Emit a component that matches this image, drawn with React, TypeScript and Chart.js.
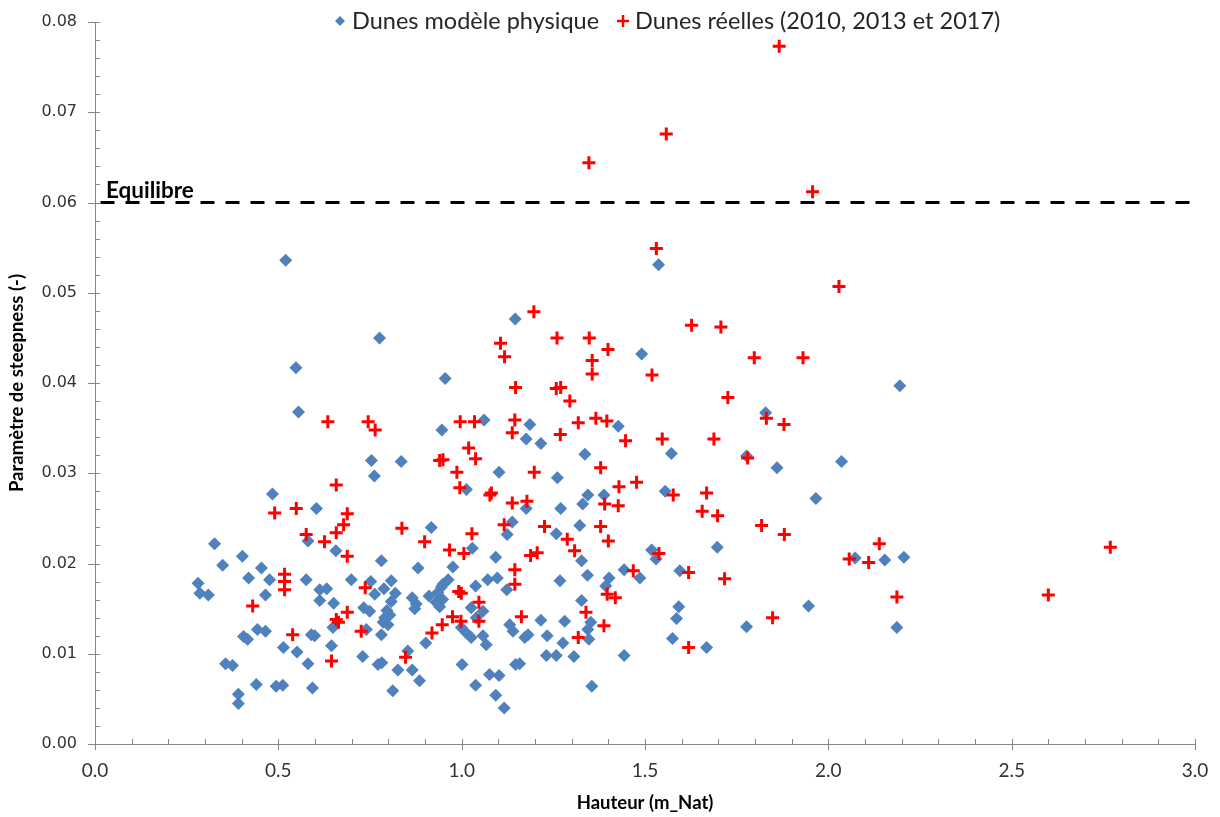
import React, { useEffect, useRef } from "react";
import { Chart, registerables } from "chart.js";

Chart.register(...registerables);

// ---- Data ----
const physiqueX: number[] = [
  0.281, 0.286, 0.309, 0.326, 0.348, 0.356, 0.375, 0.391, 0.391, 0.402, 0.405, 0.416, 0.419, 0.44, 0.443,
  0.454, 0.465, 0.465, 0.476, 0.484, 0.494, 0.512, 0.514, 0.52, 0.548, 0.555, 0.551, 0.581, 0.59, 0.599,
  0.593, 0.604, 0.581, 0.576, 0.613, 0.632, 0.613, 0.651, 0.657, 0.645, 0.649, 0.699, 0.733, 0.749, 0.74,
  0.752, 0.763, 0.788, 0.808, 0.819, 0.808, 0.79, 0.804, 0.799, 0.781, 0.73, 0.772, 0.782, 0.812, 0.826,
  0.865, 0.885, 0.853, 0.902, 0.781, 0.776, 0.754, 0.762, 0.835, 0.881, 0.917, 0.865, 0.876, 0.911, 0.94,
  0.949, 0.963, 0.945, 0.976, 0.955, 0.946, 0.999, 1.013, 1.026, 1.058, 1.067, 1.001, 1.038, 1.076, 1.102,
  1.093, 1.116, 1.147, 1.131, 1.026, 1.058, 1.038, 1.013, 1.029, 1.061, 1.071, 1.097, 1.123, 1.093, 1.124,
  1.138, 1.102, 1.146, 1.158, 1.172, 1.181, 1.176, 1.176, 1.186, 1.216, 1.216, 1.233, 1.231, 1.258, 1.258,
  1.261, 1.268, 1.27, 1.276, 1.281, 1.306, 1.322, 1.327, 1.327, 1.33, 1.336, 1.343, 1.344, 1.344, 1.347,
  1.352, 1.355, 1.388, 1.393, 1.402, 1.427, 1.443, 1.443, 1.486, 1.491, 1.518, 1.53, 1.537, 1.555, 1.572,
  1.575, 1.586, 1.592, 1.595, 1.668, 1.697, 1.777, 1.777, 1.829, 1.86, 1.946, 1.966, 2.036, 2.073, 2.154,
  2.187, 2.195, 2.206, 0.796, 0.786, 0.935, 0.872, 0.93, 0.948, 1.04, 1.14,
];
const physiqueY: number[] = [
  0.0178, 0.0167, 0.0165, 0.0222, 0.0198, 0.0089, 0.0087, 0.0055, 0.0045, 0.0208, 0.0119, 0.0116, 0.0184, 0.0066, 0.0127,
  0.0195, 0.0125, 0.0165, 0.0182, 0.0277, 0.0064, 0.0065, 0.0107, 0.0536, 0.0417, 0.0368, 0.0102, 0.0089, 0.0121, 0.012,
  0.0062, 0.0261, 0.0225, 0.0182, 0.0171, 0.0172, 0.0159, 0.0156, 0.0214, 0.0109, 0.0129, 0.0182, 0.0151, 0.0147, 0.0127,
  0.018, 0.0166, 0.0172, 0.0181, 0.0167, 0.0158, 0.014, 0.0143, 0.0132, 0.0121, 0.0097, 0.0088, 0.009, 0.0059, 0.0082,
  0.0082, 0.007, 0.0103, 0.0112, 0.0203, 0.045, 0.0314, 0.0297, 0.0313, 0.0195, 0.024, 0.0162, 0.0155, 0.0164, 0.0152,
  0.0177, 0.0182, 0.0174, 0.0196, 0.0405, 0.0348, 0.0129, 0.0123, 0.0118, 0.012, 0.011, 0.0088, 0.0065, 0.0077, 0.0076,
  0.0054, 0.004, 0.0088, 0.0132, 0.0151, 0.0147, 0.0175, 0.0282, 0.0217, 0.0359, 0.0182, 0.0184, 0.0171, 0.0207, 0.0232,
  0.0246, 0.0301, 0.0471, 0.0089, 0.0118, 0.0121, 0.0261, 0.0338, 0.0354, 0.0333, 0.0137, 0.012, 0.0098, 0.0098, 0.0233,
  0.0295, 0.0181, 0.0261, 0.0112, 0.0136, 0.0097, 0.0242, 0.0203, 0.0159, 0.0266, 0.0321, 0.0187, 0.0276, 0.0127, 0.0116,
  0.0135, 0.0064, 0.0276, 0.0175, 0.0184, 0.0352, 0.0193, 0.0098, 0.0184, 0.0432, 0.0215, 0.0205, 0.0531, 0.028, 0.0322,
  0.0117, 0.0139, 0.0152, 0.0192, 0.0107, 0.0218, 0.0319, 0.013, 0.0367, 0.0306, 0.0153, 0.0272, 0.0313, 0.0206, 0.0204,
  0.0129, 0.0397, 0.0207, 0.0148, 0.0135, 0.0168, 0.015, 0.0157, 0.016, 0.014, 0.0125,
];

const reellesX: number[] = [
  0.43, 0.49, 0.517, 0.517, 0.517, 0.539, 0.549, 0.576, 0.626, 0.635, 0.645, 0.658, 0.658, 0.658, 0.664,
  0.678, 0.688, 0.688, 0.688, 0.726, 0.737, 0.745, 0.764, 0.837, 0.847, 0.899, 0.919, 0.94, 0.949, 0.947,
  0.967, 0.975, 0.987, 0.992, 0.999, 0.995, 0.996, 0.998, 1.006, 1.019, 1.028, 1.035, 1.038, 1.047, 1.047,
  1.077, 1.081, 1.106, 1.116, 1.117, 1.138, 1.138, 1.145, 1.145, 1.145, 1.147, 1.163, 1.178, 1.188, 1.197,
  1.198, 1.206, 1.226, 1.258, 1.26, 1.269, 1.27, 1.288, 1.295, 1.308, 1.318, 1.318, 1.339, 1.347, 1.348,
  1.356, 1.356, 1.366, 1.379, 1.379, 1.388, 1.39, 1.396, 1.397, 1.399, 1.4, 1.419, 1.427, 1.429, 1.447,
  1.468, 1.477, 1.519, 1.531, 1.538, 1.547, 1.558, 1.577, 1.619, 1.619, 1.627, 1.656, 1.668, 1.688, 1.698,
  1.707, 1.717, 1.726, 1.78, 1.798, 1.818, 1.831, 1.848, 1.866, 1.879, 1.88, 1.931, 1.957, 2.029, 2.057,
  2.11, 2.139, 2.187, 2.6, 2.769,
];
const reellesY: number[] = [
  0.0153, 0.0256, 0.0188, 0.018, 0.0171, 0.0121, 0.0261, 0.0232, 0.0224, 0.0357, 0.0092, 0.0287, 0.0234, 0.0138, 0.0135,
  0.0243, 0.0255, 0.0208, 0.0146, 0.0125, 0.0173, 0.0357, 0.0348, 0.0239, 0.0096, 0.0224, 0.0123, 0.0314, 0.0315, 0.0132,
  0.0215, 0.0141, 0.0301, 0.0169, 0.0167, 0.0284, 0.0357, 0.0136, 0.0211, 0.0328, 0.0233, 0.0357, 0.0316, 0.0157, 0.0136,
  0.0276, 0.0278, 0.0444, 0.0243, 0.0429, 0.0267, 0.0345, 0.0359, 0.0193, 0.0177, 0.0395, 0.0141, 0.0269, 0.0209, 0.0479,
  0.0301, 0.0212, 0.0241, 0.0394, 0.045, 0.0343, 0.0395, 0.0227, 0.038, 0.0214, 0.0356, 0.0118, 0.0146, 0.0644, 0.045,
  0.0425, 0.041, 0.0361, 0.0306, 0.0241, 0.0131, 0.0266, 0.0358, 0.0166, 0.0437, 0.0225, 0.0162, 0.0264, 0.0285, 0.0336,
  0.0192, 0.029, 0.0409, 0.0549, 0.0211, 0.0338, 0.0676, 0.0276, 0.019, 0.0107, 0.0464, 0.0258, 0.0278, 0.0338, 0.0253,
  0.0462, 0.0183, 0.0384, 0.0317, 0.0428, 0.0242, 0.0361, 0.014, 0.0773, 0.0354, 0.0232, 0.0428, 0.0612, 0.0507, 0.0205,
  0.0201, 0.0222, 0.0163, 0.0165, 0.0218,
];

const equilibreX: number[] = [0.015, 3.0];
const equilibreY: number[] = [0.06, 0.06];
const equilibreLabel = "Equilibre";

const seriesLabels = ["Dunes modèle physique", "Dunes réelles (2010, 2013 et 2017)"];
const xAxisTitle = "Hauteur (m_Nat)";
const yAxisTitle = "Paramètre de steepness (-)";

const X_MIN = 0, X_MAX = 3, X_MAJOR = 0.5, X_MINOR = 0.1;
const Y_MIN = 0, Y_MAX = 0.08, Y_MAJOR = 0.01, Y_MINOR = 0.002;

const BLUE = "#4F81BD";
const RED = "#FF0000";
const AXIS = "#868686";

const pts = (xs: number[], ys: number[]) => xs.map((x, i) => ({ x, y: ys[i] }));

const decorPlugin = {
  id: "decor",
  afterDraw(chart: any) {
    const { ctx, chartArea: ca } = chart;
    const xs = chart.scales.x;
    const ys = chart.scales.y;
    ctx.save();
    // tick marks: minor inside, major cross
    ctx.strokeStyle = AXIS;
    ctx.lineWidth = 1;
    ctx.beginPath();
    const nx = Math.round((X_MAX - X_MIN) / X_MINOR);
    const perMajX = Math.round(X_MAJOR / X_MINOR);
    for (let i = 0; i <= nx; i++) {
      const px = Math.round(xs.getPixelForValue(X_MIN + i * X_MINOR)) + 0.5;
      const major = i % perMajX === 0;
      ctx.moveTo(px, ca.bottom + (major ? 6 : 0));
      ctx.lineTo(px, ca.bottom - 5);
    }
    const ny = Math.round((Y_MAX - Y_MIN) / Y_MINOR);
    const perMajY = Math.round(Y_MAJOR / Y_MINOR);
    for (let i = 0; i <= ny; i++) {
      const py = Math.round(ys.getPixelForValue(Y_MIN + i * Y_MINOR)) + 0.5;
      const major = i % perMajY === 0;
      ctx.moveTo(ca.left - (major ? 7 : 0), py);
      ctx.lineTo(ca.left + 5, py);
    }
    ctx.stroke();

    // Equilibre label
    ctx.fillStyle = "#000";
    ctx.font = "bold 22.5px Lato";
    ctx.textAlign = "left";
    ctx.textBaseline = "alphabetic";
    ctx.fillText(equilibreLabel, xs.getPixelForValue(0.03), ys.getPixelForValue(equilibreY[0]) - 5);

    // Legend
    const ly = 21;
    ctx.font = "23.5px Lato";
    ctx.textBaseline = "middle";
    let lx = 340;
    ctx.fillStyle = BLUE;
    ctx.beginPath();
    ctx.moveTo(lx, ly - 5);
    ctx.lineTo(lx + 5, ly);
    ctx.lineTo(lx, ly + 5);
    ctx.lineTo(lx - 5, ly);
    ctx.closePath();
    ctx.fill();
    ctx.fillStyle = "#262626";
    ctx.fillText(chart.data.datasets[0].label, lx + 12, ly);
    lx = 623;
    ctx.strokeStyle = RED;
    ctx.lineWidth = 2.5;
    ctx.beginPath();
    ctx.moveTo(lx - 6, ly);
    ctx.lineTo(lx + 6, ly);
    ctx.moveTo(lx, ly - 6);
    ctx.lineTo(lx, ly + 6);
    ctx.stroke();
    ctx.fillText(chart.data.datasets[1].label, lx + 12, ly);
    ctx.restore();
  },
};

export default function App() {
  const ref = useRef<HTMLCanvasElement | null>(null);
  useEffect(() => {
    if (!ref.current) return;
    const chart = new Chart(ref.current, {
      type: "scatter",
      data: {
        datasets: [
          {
            label: seriesLabels[0],
            data: pts(physiqueX, physiqueY),
            pointStyle: "rectRot",
            pointRadius: 6.5,
            backgroundColor: BLUE,
            borderColor: BLUE,
            borderWidth: 0,
            order: 2,
          },
          {
            label: seriesLabels[1],
            data: pts(reellesX, reellesY),
            pointStyle: "cross",
            pointRadius: 6.5,
            borderColor: RED,
            backgroundColor: RED,
            borderWidth: 3,
            order: 1,
          },
          {
            label: equilibreLabel,
            data: pts(equilibreX, equilibreY),
            showLine: true,
            borderColor: "#000",
            borderWidth: 3,
            borderDash: [14, 11],
            pointRadius: 0,
            order: 3,
          },
        ],
      },
      options: {
        animation: false,
        responsive: false,
        events: [],
        layout: { padding: { top: 22, right: 25, left: 0, bottom: 0 } },
        plugins: { legend: { display: false }, tooltip: { enabled: false } },
        scales: {
          x: {
            type: "linear",
            min: X_MIN,
            max: X_MAX,
            grid: { display: false, drawTicks: true, tickLength: 15 },
            border: { display: true, color: AXIS, width: 1 },
            ticks: {
              stepSize: X_MAJOR,
              autoSkip: false,
              maxRotation: 0,
              padding: 0,
              color: "#333",
              font: { family: "Lato", size: 19 },
              callback: (v: any) => Number(v).toFixed(1),
            },
            title: {
              display: true,
              text: xAxisTitle,
              color: "#000",
              font: { family: "Lato", size: 18.5, weight: "bold" },
              padding: { top: 0, bottom: 3 },
            },
            afterFit: (s: any) => {
              s.height = 73;
            },
          },
          y: {
            type: "linear",
            min: Y_MIN,
            max: Y_MAX,
            grid: { display: false, drawTicks: true, tickLength: 18 },
            border: { display: true, color: AXIS, width: 1 },
            ticks: {
              stepSize: Y_MAJOR,
              padding: 0,
              color: "#333",
              font: { family: "DejaVu Sans", size: 16 },
              callback: (v: any) => Number(v).toFixed(2),
            },
            title: {
              display: true,
              text: yAxisTitle,
              color: "#000",
              font: { family: "Lato", size: 18.5, weight: "bold" },
              padding: { top: 6, bottom: 0 },
            },
            afterFit: (s: any) => {
              s.width = 95;
            },
          },
        },
      },
      plugins: [decorPlugin],
    } as any);
    return () => chart.destroy();
  }, []);
  return (
    <div style={{ position: "absolute", left: 0, top: 0, width: 1220, height: 817, background: "#fff" }}>
      <canvas ref={ref} width={1220} height={817} style={{ display: "block" }} />
    </div>
  );
}
